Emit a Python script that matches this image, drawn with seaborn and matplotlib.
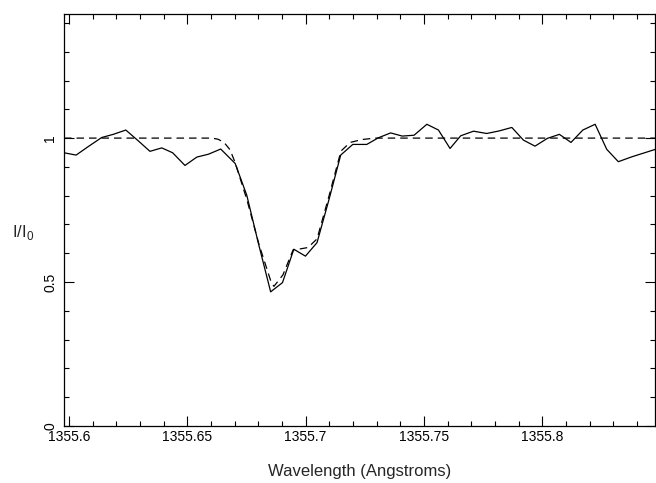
import numpy as np
import pandas as pd
import matplotlib
matplotlib.use('Agg')
import matplotlib.pyplot as plt
import seaborn as sns
from matplotlib.ticker import MultipleLocator

# Observed spectrum (wavelength in Angstroms, normalised intensity)
wave_obs = [1355.5979, 1355.6030, 1355.6084, 1355.6138, 1355.6187, 1355.6240,
            1355.6292, 1355.6342, 1355.6392, 1355.6438, 1355.6490, 1355.6540,
            1355.6589, 1355.6641, 1355.6702, 1355.6751, 1355.6801, 1355.6852,
            1355.6902, 1355.6950, 1355.6999, 1355.7048, 1355.7099, 1355.7148,
            1355.7199, 1355.7258, 1355.7307, 1355.7359, 1355.7408, 1355.7458,
            1355.7512, 1355.7561, 1355.7610, 1355.7655, 1355.7709, 1355.7765,
            1355.7818, 1355.7871, 1355.7920, 1355.7969, 1355.8021, 1355.8072,
            1355.8121, 1355.8171, 1355.8223, 1355.8272, 1355.8321, 1355.8378,
            1355.8428, 1355.8478]
flux_obs = [0.949, 0.941, 0.972, 1.002, 1.013, 1.028,
            0.991, 0.954, 0.966, 0.949, 0.905, 0.934,
            0.944, 0.962, 0.912, 0.802, 0.632, 0.466,
            0.498, 0.614, 0.590, 0.637, 0.788, 0.941,
            0.978, 0.978, 1.001, 1.018, 1.007, 1.010,
            1.048, 1.028, 0.964, 1.008, 1.024, 1.016,
            1.025, 1.037, 0.993, 0.972, 0.999, 1.013,
            0.985, 1.028, 1.048, 0.961, 0.918, 0.935,
            0.948, 0.961]

# Model fit (dashed)
wave_fit = [1355.5979, 1355.6604, 1355.6630, 1355.6655, 1355.6680, 1355.6702,
            1355.6752, 1355.6803, 1355.6854, 1355.6866, 1355.6904, 1355.6947,
            1355.6976, 1355.7010, 1355.7048, 1355.7099, 1355.7149, 1355.7188,
            1355.7238, 1355.7293, 1355.8476]
flux_fit = [1.000, 1.000, 0.996, 0.985, 0.960, 0.915,
            0.785, 0.630, 0.500, 0.485, 0.525, 0.612,
            0.615, 0.620, 0.650, 0.800, 0.955, 0.985,
            0.995, 1.000, 1.000]

obs = pd.DataFrame({'wave': wave_obs, 'flux': flux_obs})
fit = pd.DataFrame({'wave': wave_fit, 'flux': flux_fit})

sns.set_style('ticks')
plt.rcParams['font.family'] = ['Liberation Sans', 'DejaVu Sans']
plt.rcParams['mathtext.fontset'] = 'custom'
plt.rcParams['mathtext.rm'] = 'Liberation Sans'

fig = plt.figure(figsize=(6.56, 4.83), dpi=100)
ax = fig.add_axes([0.0976, 0.118, 0.9009, 0.853])

sns.lineplot(data=obs, x='wave', y='flux', ax=ax, color='black', lw=0.9,
             estimator=None, sort=False)
sns.lineplot(data=fit, x='wave', y='flux', ax=ax, color='black', lw=0.9,
             estimator=None, sort=False, dashes=False, linestyle=(0, (6, 4)))

ax.set_xlim(1355.5979, 1355.8476)
ax.set_ylim(0, 1.431)

ax.xaxis.set_major_locator(MultipleLocator(0.05))
ax.xaxis.set_minor_locator(MultipleLocator(0.01))
ax.yaxis.set_major_locator(MultipleLocator(0.5))
ax.yaxis.set_minor_locator(MultipleLocator(0.1))
ax.set_xticks([1355.6, 1355.65, 1355.7, 1355.75, 1355.8])
ax.set_xticklabels(['1355.6', '1355.65', '1355.7', '1355.75', '1355.8'])
ax.set_yticks([0, 0.5, 1])
ax.set_yticklabels(['0', '0.5', '1'], rotation=90, va='center')

ax.tick_params(which='both', direction='in', top=True, right=True,
               colors='black', labelsize=10, width=0.8)
ax.tick_params(which='major', length=7)
ax.tick_params(which='minor', length=3.5)
ax.tick_params(axis='x', pad=3)
ax.tick_params(axis='y', pad=5)

for sp in ax.spines.values():
    sp.set_color('black')
    sp.set_linewidth(0.9)

ax.set_xlabel('Wavelength (Angstroms)', fontsize=12, labelpad=14)
ax.set_ylabel(r'I/I$_\mathregular{0}$', fontsize=12, rotation=0, labelpad=14, va='center')
ax.yaxis.set_label_coords(-0.07, 0.47)

fig.savefig('out.png', dpi=100)
